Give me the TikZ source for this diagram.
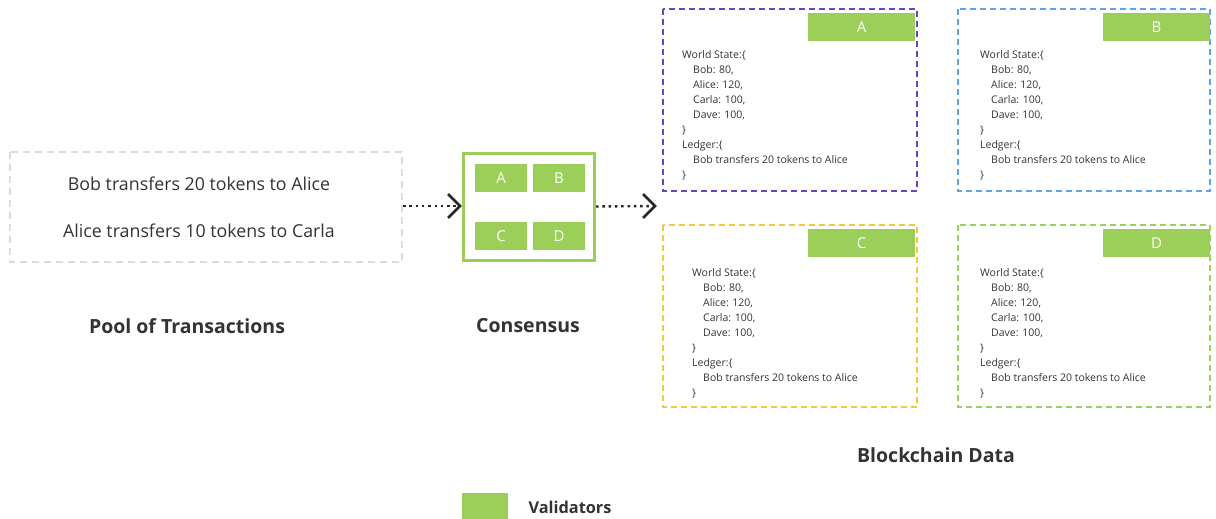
\documentclass[tikz,border=0pt]{standalone}
\usepackage{fontspec}
\setmainfont{Open Sans}
\usetikzlibrary{arrows.meta}
\definecolor{vgreen}{HTML}{9CCF5A}
\definecolor{vpurple}{HTML}{6A42C2}
\definecolor{vblue}{HTML}{5FA3E8}
\definecolor{vyellow}{HTML}{F1C93A}
\definecolor{vgray}{HTML}{DCDCDC}
\definecolor{txt}{HTML}{333333}
\tikzset{
  dbox/.style={draw=#1, line width=1.6pt, dash pattern=on 6pt off 4pt},
  vlabel/.style={fill=vgreen, text=white, minimum width=107pt, minimum height=28pt, inner sep=0pt, font=\fontsize{15}{17}\selectfont},
  cbox/.style={fill=vgreen, text=white, minimum width=52pt, minimum height=28pt, inner sep=0pt, font=\fontsize{15}{17}\selectfont},
  state/.style={anchor=north west, align=left, text=txt, inner sep=0pt, font=\fontsize{10.5}{15}\selectfont},
  title/.style={text=txt, font=\bfseries\fontsize{19.5}{22}\selectfont},
  flowline/.style={line width=2.4pt, dash pattern=on 2.5pt off 3.8pt, draw=black!85, shorten >=3pt},
  chev/.style={line width=2.8pt, draw=black!85, line join=miter}
}
\newcommand{\worldstate}{World State:\{\\\hspace*{11pt}Bob: 80,\\\hspace*{11pt}Alice: 120,\\\hspace*{11pt}Carla: 100,\\\hspace*{11pt}Dave: 100,\\\}\\Ledger:\{\\\hspace*{11pt}Bob transfers 20 tokens to Alice\\\}}
\begin{document}
\begin{tikzpicture}[x=1pt,y=-1pt]
\useasboundingbox (0,0) rectangle (1216,519);
% pool
\draw[draw=vgray, line width=1.2pt, dash pattern=on 7pt off 5pt] (10,152) rectangle (402,262);
\node[text=txt, font=\fontsize{17.8}{20}\selectfont] (t1) at (199,184) {Bob transfers 20 tokens to Alice};
\node[text=txt, font=\fontsize{17.8}{20}\selectfont] (t2) at (199,231) {Alice transfers 10 tokens to Carla};
\coordinate (poolE) at (403,206);
\node[title] (pooltitle) at (187,326) {Pool of Transactions};
% consensus
\node[draw=vgreen, line width=3pt, minimum width=131pt, minimum height=107pt, inner sep=0pt] (cons) at (529,206.5) {};
\node[cbox] (ca) at (501,178) {A};
\node[cbox] (cb) at (559,178) {B};
\node[cbox] (cc) at (501,236) {C};
\node[cbox] (cd) at (559,236) {D};
\node[title] (constitle) at (528,326) {Consensus};
\coordinate (blkW) at (655,206);
\coordinate (tip1) at (460,206);
\draw[flowline] (poolE) -- (tip1);
\draw[chev] (tip1) ++(-12,-12) -- (tip1) -- ++(-12,12);
\draw[flowline] (cons.east) -- (blkW);
\draw[chev] (blkW) ++(-12,-12) -- (blkW) -- ++(-12,12);
% validator boxes
\draw[dbox=vpurple] (663,9) rectangle (917,191);
\node[vlabel] (la) at (861.5,27) {A};
\node[state] (sa) at (682,50) {\worldstate};
\draw[dbox=vblue] (958,9) rectangle (1210,191);
\node[vlabel] (lb) at (1156.5,27) {B};
\node[state] (sb) at (980,50) {\worldstate};
\draw[dbox=vyellow] (663,225) rectangle (917,407);
\node[vlabel] (lc) at (861.5,243) {C};
\node[state] (sc) at (692,268) {\worldstate};
\draw[dbox=vgreen] (958,225) rectangle (1210,407);
\node[vlabel] (ld) at (1156.5,243) {D};
\node[state] (sd) at (980,268) {\worldstate};
\node[title] (bctitle) at (936,455) {Blockchain Data};
% legend
\node[fill=vgreen, minimum width=46pt, minimum height=27pt, inner sep=0pt] (leg) at (485,506) {};
\node[title, anchor=west, font=\bfseries\fontsize{16.3}{19}\selectfont] (legt) at (525,507) {Validators};
\end{tikzpicture}
\end{document}
